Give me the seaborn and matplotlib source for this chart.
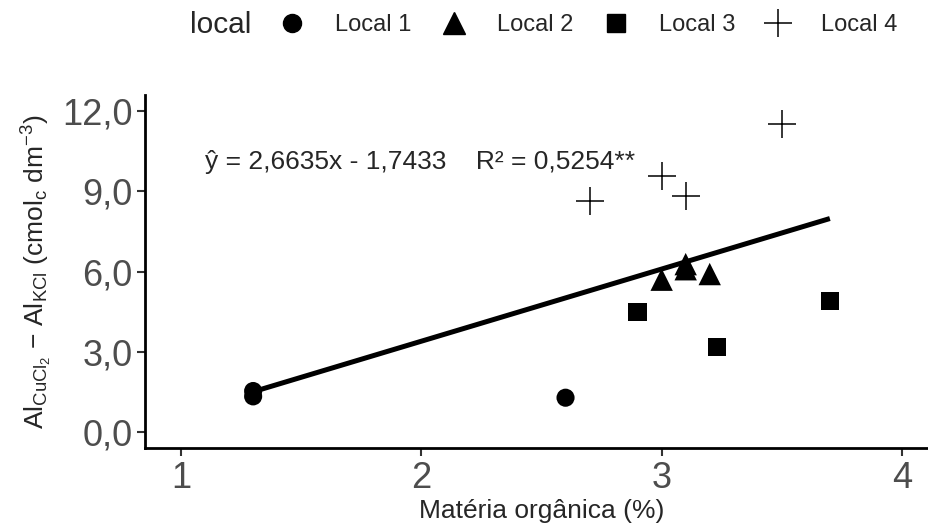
import numpy as np
import pandas as pd
import matplotlib
matplotlib.use('Agg')
import matplotlib.pyplot as plt
from matplotlib.lines import Line2D
import seaborn as sns

# dados
local1_x = [1.3, 1.3, 2.6]
local1_y = [1.54, 1.34, 1.29]
local2_x = [3.0, 3.1, 3.1, 3.2]
local2_y = [5.70, 6.28, 6.09, 5.91]
local3_x = [2.9, 3.23, 3.7]
local3_y = [4.49, 3.19, 4.91]
local4_x = [2.7, 3.0, 3.1, 3.5]
local4_y = [8.63, 9.56, 8.81, 11.5]

locais = ['Local 1', 'Local 2', 'Local 3', 'Local 4']
xticks = [1, 2, 3, 4]
yticks = [0, 3, 6, 9, 12]
ytick_labels = ['0,0', '3,0', '6,0', '9,0', '12,0']
equacao = 'ŷ = 2,6635x - 1,7433    R² = 0,5254**'

sns.set_style('white')
plt.rcParams['font.family'] = ['Liberation Sans', 'DejaVu Sans']
plt.rcParams['mathtext.fontset'] = 'custom'
plt.rcParams['mathtext.rm'] = 'Liberation Sans'
plt.rcParams['mathtext.it'] = 'Liberation Sans:italic'

df = pd.DataFrame({
    'mo': local1_x + local2_x + local3_x + local4_x,
    'al': local1_y + local2_y + local3_y + local4_y,
    'local': (['Local 1'] * len(local1_x) + ['Local 2'] * len(local2_x)
              + ['Local 3'] * len(local3_x) + ['Local 4'] * len(local4_x)),
})

fig = plt.figure(figsize=(9.29, 5.32), dpi=100)
ax = fig.add_axes([145 / 929, (532 - 448.3) / 532, (938 - 145) / 929, (448.3 - 95) / 532])

# reta de regressao
sns.regplot(data=df, x='mo', y='al', scatter=False, ci=None, color='black',
            line_kws={'lw': 3.6, 'solid_capstyle': 'butt'}, ax=ax)

marcadores = {'Local 1': 'o', 'Local 2': '^', 'Local 3': 's'}
tamanhos = {'Local 1': 170, 'Local 2': 260, 'Local 3': 180}
for loc in ['Local 1', 'Local 2', 'Local 3']:
    sub = df[df['local'] == loc]
    sns.scatterplot(data=sub, x='mo', y='al', marker=marcadores[loc], s=tamanhos[loc],
                    color='black', edgecolor='none', legend=False, ax=ax, zorder=3)
sub = df[df['local'] == 'Local 4']
sns.scatterplot(data=sub, x='mo', y='al', marker='+', s=400, color='black',
                linewidth=1.1, legend=False, ax=ax, zorder=3)

ax.text(1.1, 10.1, equacao, fontsize=19, ha='left', va='center')

ax.set_xlim(0.85, 4.15)
ax.set_ylim(-0.6, 12.6)
ax.set_xticks(xticks)
ax.set_xticklabels([str(v) for v in xticks])
ax.set_yticks(yticks)
ax.set_yticklabels(ytick_labels)
ax.tick_params(axis='both', labelsize=26, labelcolor='#4D4D4D', color='#333333',
               length=6, width=1.5, pad=3, direction='out', bottom=True, left=True)

for lado in ['top', 'right']:
    ax.spines[lado].set_visible(False)
for lado in ['left', 'bottom']:
    ax.spines[lado].set_linewidth(2.0)
    ax.spines[lado].set_color('black')

ax.set_xlabel('Matéria orgânica (%)', fontsize=19, labelpad=2)
ax.set_ylabel(r'Al$_{\mathrm{CuCl_2}}$ − Al$_{\mathrm{KCl}}$ (cmol$_{\mathrm{c}}$ dm$^{-3}$)',
              fontsize=19, labelpad=6)

# legenda no topo
handles = [
    Line2D([], [], marker='o', ls='none', color='black', markersize=13),
    Line2D([], [], marker='^', ls='none', color='black', markersize=16),
    Line2D([], [], marker='s', ls='none', color='black', markersize=13.4),
    Line2D([], [], marker='+', ls='none', color='black', markersize=20, markeredgewidth=1.1),
]
fig.text(190 / 929, 1 - 25 / 532, 'local', fontsize=21.5, ha='left', va='center')
fig.legend(handles, locais, loc='center left', bbox_to_anchor=(274.5 / 929, 1 - 25 / 532),
           ncol=4, frameon=False, fontsize=17, handlelength=1.5, handletextpad=1.05,
           columnspacing=1.08, borderpad=0, borderaxespad=0)

fig.savefig('out.png', dpi=100, facecolor='white')
